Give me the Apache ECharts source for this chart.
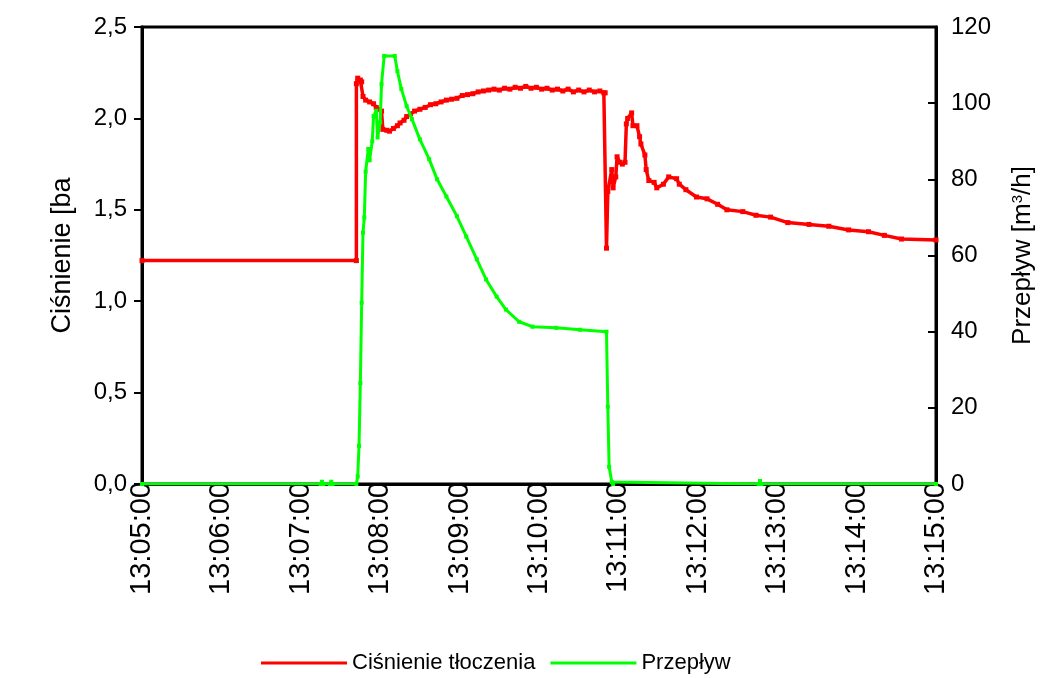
<!DOCTYPE html>
<html><head><meta charset="utf-8">
<script src="https://cdn.jsdelivr.net/npm/echarts@6/dist/echarts.min.js"></script>
<style>html,body{margin:0;padding:0;background:#fff}#c{width:1044px;height:678px}</style>
</head><body><div id="c"></div>
<script>
// Seconds elapsed since 13:05:00
const timeTickLabels = ['13:05:00','13:06:00','13:07:00','13:08:00','13:09:00','13:10:00','13:11:00','13:12:00','13:13:00','13:14:00','13:15:00'];
const pressureLeftTicks = ['0,0','0,5','1,0','1,5','2,0','2,5'];

const pressureSeconds = [0,162,162,163,165,166,167,169,172,175,177,179,181,182,185,187,190,193,195,198,200,203,206,210,214,218,222,226,230,234,238,242,246,250,254,258,262,266,270,274,278,282,286,290,294,298,302,306,310,314,318,322,326,330,334,338,342,346,349,350,
  351,352,355,356,358,359,361,363,365,366,367,370,371,374,376,377,380,381,383,387,389,394,398,404,406,411,419,427,435,442,454,464,475,488,504,519,534,549,561,574,600];
const pressureValues = [1.222,1.222,2.19,2.22,2.21,2.2,2.12,2.1,2.09,2.08,2.06,2.05,2.04,1.94,1.935,1.93,1.945,1.96,1.975,1.99,2.01,2.025,2.04,2.05,2.06,2.075,2.08,2.09,2.1,2.105,2.11,2.125,2.13,2.135,2.145,2.15,2.155,2.16,2.155,2.165,2.16,2.17,2.165,2.175,2.165,2.17,2.16,2.165,2.155,2.16,2.15,2.16,2.145,2.155,2.145,2.155,2.145,2.15,2.14,2.14,
  1.29,1.6,1.72,1.62,1.68,1.79,1.76,1.75,1.76,1.97,2.0,2.03,1.96,1.96,1.9,1.86,1.8,1.72,1.66,1.65,1.62,1.64,1.68,1.67,1.64,1.61,1.57,1.56,1.53,1.5,1.49,1.47,1.46,1.43,1.42,1.41,1.39,1.38,1.36,1.34,1.335];

const flowSeconds = [0,135,136,137,142,143,144,162,163,164,165,166,167,168,169,171,172,174,175,177,178,180,181,183,191,193,196,200,204,210,217,223,230,238,245,253,260,268,275,285,295,313,331,351,352,353,355,356,466,467,468,600];
const flowValues = [0,0,0.6,0,0,0.6,0,0,2,10,26.5,47.6,66,70,82,88,85,90,96.6,98,91,95,105,112.4,112.4,108.4,103.7,99.2,95.8,90.5,85.3,80,75.5,70.3,65,59,53.7,49.2,45.8,42.6,41.3,41,40.5,40,20.3,4.5,0.5,0,0,0.8,0,0];

const seriesNames = ['Ciśnienie tłoczenia','Przepływ'];

const pressureData = pressureSeconds.map((s,i)=>[s,pressureValues[i]]);
const flowData = flowSeconds.map((s,i)=>[s,flowValues[i]]);

const FONT = 'Liberation Sans, Arial, sans-serif';
const chart = echarts.init(document.getElementById('c'), null, {renderer:'canvas'});
chart.setOption({
  animation:false,
  backgroundColor:'#fff',
  grid:{left:142,right:107,top:27,bottom:194,show:true,borderColor:'#000',borderWidth:3,backgroundColor:'transparent'},
  legend:{
    left:256, top:647, itemWidth:86, itemHeight:3, itemGap:15, icon:'rect',
    textStyle:{fontFamily:FONT,fontSize:22,color:'#000'},
    data:seriesNames
  },
  xAxis:{
    type:'value', min:0, max:600, interval:60,
    axisLine:{lineStyle:{color:'#000',width:3}},
    axisTick:{show:false},
    splitLine:{show:false},
    axisLabel:{rotate:90, margin:-2, fontFamily:FONT, fontSize:29, color:'#000',
      showMinLabel:true, showMaxLabel:true,
      formatter:v=>timeTickLabels[Math.round(v/60)]}
  },
  yAxis:[{
    type:'value', min:0, max:2.5, interval:0.5, position:'left',
    name:'Ciśnienie [ba', nameLocation:'middle', nameGap:66,
    nameTextStyle:{fontFamily:FONT,fontSize:27,color:'#000'},
    axisLine:{show:true,lineStyle:{color:'#000',width:3}},
    axisTick:{show:true,length:8,lineStyle:{color:'#000',width:2}},
    splitLine:{show:false},
    axisLabel:{margin:15,fontFamily:FONT,fontSize:24,color:'#000',formatter:v=>pressureLeftTicks[Math.round(v/0.5)]}
  },{
    type:'value', min:0, max:120, interval:20, position:'right',
    name:'Przepływ [m{sup|3}/h]', nameLocation:'middle', nameGap:74,
    nameTextStyle:{fontFamily:FONT,fontSize:26,color:'#000',
      rich:{sup:{fontFamily:FONT,fontSize:15,color:'#000',verticalAlign:'top',lineHeight:15}}},
    axisLine:{show:true,lineStyle:{color:'#000',width:3}},
    axisTick:{show:true,inside:true,length:8,lineStyle:{color:'#000',width:2}},
    splitLine:{show:false},
    axisLabel:{margin:15,fontFamily:FONT,fontSize:24,color:'#000'}
  }],
  series:[{
    name:seriesNames[0], type:'line', yAxisIndex:0, data:pressureData,
    color:'#ff0000', lineStyle:{color:'#ff0000',width:3.5},
    symbol:'rect', symbolSize:5, showSymbol:true, showAllSymbol:true,
    itemStyle:{color:'#ff0000'}, z:2
  },{
    name:seriesNames[1], type:'line', yAxisIndex:1, data:flowData,
    color:'#00ff00', lineStyle:{color:'#00ff00',width:3},
    symbol:'rect', symbolSize:4, showSymbol:true, showAllSymbol:true,
    itemStyle:{color:'#00ff00'}, z:3
  }]
});
</script></body></html>
